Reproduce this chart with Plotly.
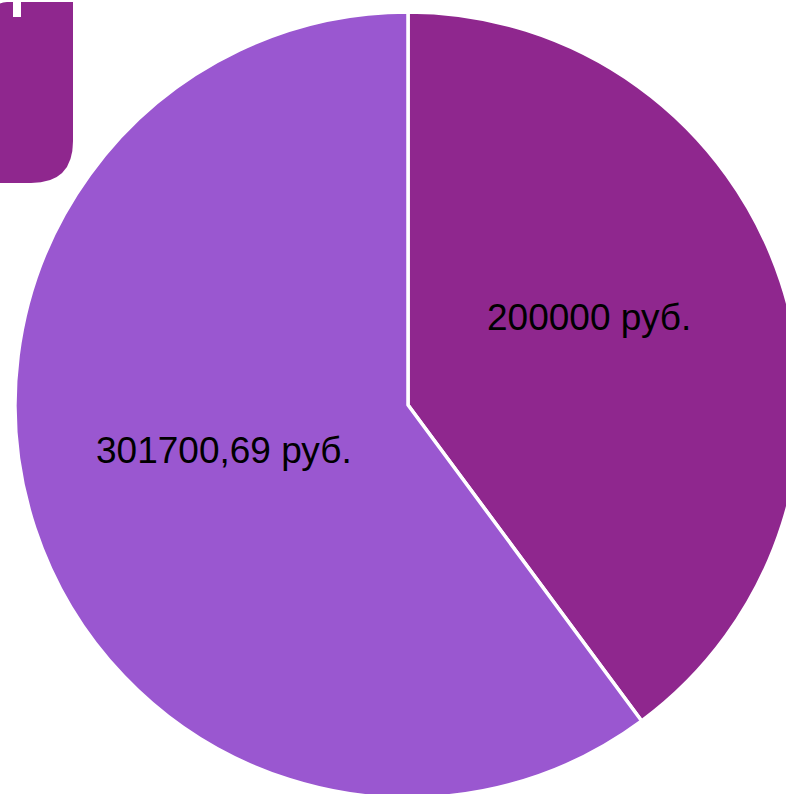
import math
import plotly.graph_objects as go

# ---- data ----
labels = ["Сумма 1", "Сумма 2"]
values = [200000, 301700.69]
text_labels = ["200000 руб.", "301700,69 руб."]
colors = ["rgb(143,39,142)", "rgb(154,87,208)"]

# ---- canvas ----
W, H = 830, 830
CX, CY, R = 408, 405, 393


def px(x):
    return x / W


def py(y):
    return 1 - y / H


fig = go.Figure()
fig.add_trace(go.Pie(
    labels=labels,
    values=values,
    sort=False,
    direction="clockwise",
    rotation=0,
    marker=dict(colors=colors, line=dict(color="white", width=3.5)),
    textinfo="none",
    hoverinfo="label+value",
    showlegend=False,
    domain=dict(x=[px(CX - R), px(CX + R)], y=[py(CY + R), py(CY - R)]),
))

# labels positioned along each slice's mid-angle
total = sum(values)
shifts = [(-6, 26), (3, 16)]
cum = 0
for v, t, (dx, dy) in zip(values, text_labels, shifts):
    mid = (cum + v / 2) / total * 2 * math.pi
    cum += v
    lx = CX + 0.5 * R * math.sin(mid)
    ly = CY - 0.5 * R * math.cos(mid)
    fig.add_annotation(
        x=px(lx), y=py(ly), xref="paper", yref="paper",
        text=t, showarrow=False, xshift=dx, yshift=dy,
        font=dict(family="Liberation Sans, Arial, sans-serif", size=37, color="black"),
        xanchor="center", yanchor="middle",
    )

# clipped legend-like box at top-left
def path_pts():
    r1 = 12
    r2 = 42
    x0, x1, y0, y1 = -5, 73, 2, 183
    return (f"M {px(x0)},{py(y0 + r1)} "
            f"Q {px(x0)},{py(y0)} {px(x0 + r1)},{py(y0)} "
            f"L {px(x1)},{py(y0)} L {px(x1)},{py(y1 - r2)} "
            f"Q {px(x1)},{py(y1)} {px(x1 - r2)},{py(y1)} "
            f"L {px(x0)},{py(y1)} Z")

fig.add_shape(type="path", xref="paper", yref="paper", path=path_pts(),
              fillcolor="rgb(143,39,142)", line=dict(width=0), layer="above")
fig.add_shape(type="rect", xref="paper", yref="paper",
              x0=px(13), x1=px(21), y0=py(17), y1=py(-2),
              fillcolor="white", line=dict(width=0), layer="above")

fig.update_layout(
    width=W, height=H,
    margin=dict(l=0, r=0, t=0, b=0),
    paper_bgcolor="white",
    plot_bgcolor="white",
)

fig.write_html(
    "out.html",
    config={"displayModeBar": False},
    post_script="document.body.style.margin='0';document.body.style.overflow='hidden';document.documentElement.style.overflow='hidden';",
)
